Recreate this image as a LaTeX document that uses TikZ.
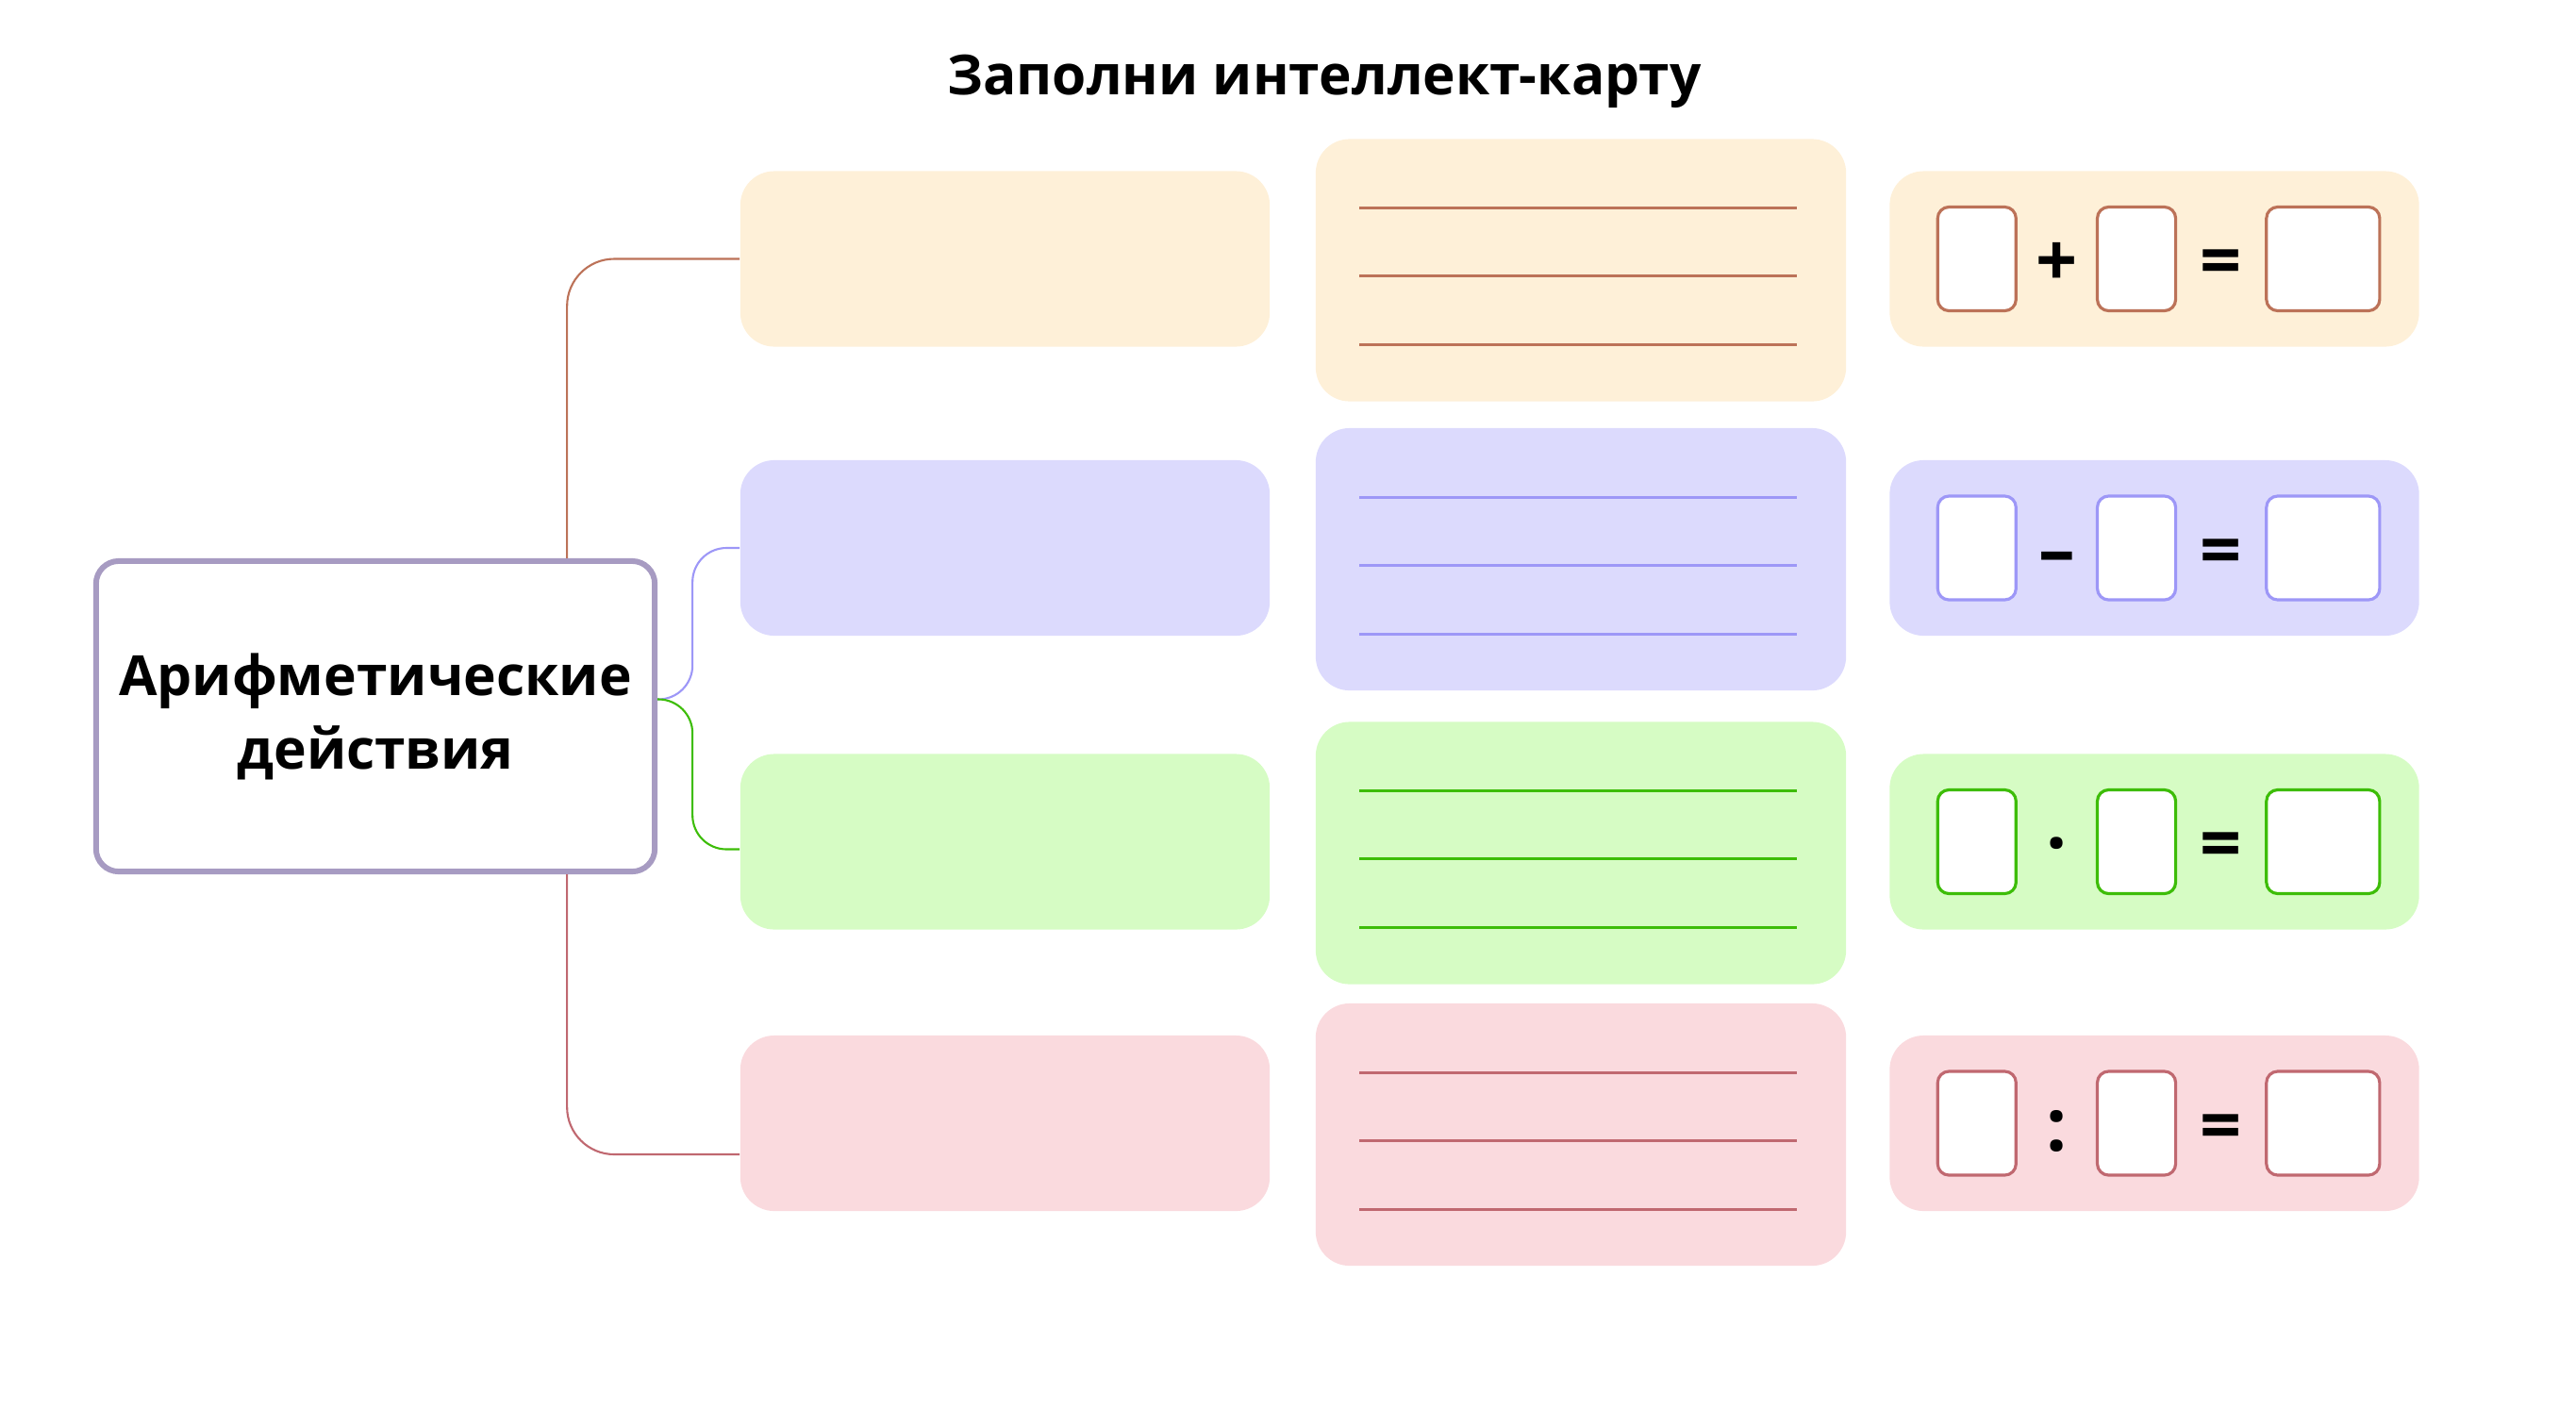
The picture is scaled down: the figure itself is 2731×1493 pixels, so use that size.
\documentclass[tikz,border=0pt]{standalone}
\usepackage{fontspec}
\setmainfont{Open Sans}
\usetikzlibrary{positioning,calc}
\definecolor{nen1}{HTML}{FEF0D8}
\definecolor{nen2}{HTML}{DCDAFD}
\definecolor{nen3}{HTML}{D6FCC4}
\definecolor{nen4}{HTML}{FADADE}
\definecolor{vien1}{HTML}{BC7258}
\definecolor{vien2}{HTML}{9D97F7}
\definecolor{vien3}{HTML}{3DBD08}
\definecolor{vien4}{HTML}{C06870}
\definecolor{vienO}{HTML}{A79BC2}
\begin{document}
\begin{tikzpicture}[x=.01cm,y=-.01cm,
    hop/.style={rounded corners=.36cm,minimum width=5.61cm,minimum height=1.86cm,inner sep=0pt},
    bang/.style={hop,minimum width=5.62cm,minimum height=2.78cm},
    onho/.style={draw,fill=white,rounded corners=.12cm,line width=.9pt,minimum width=.83cm,minimum height=1.1cm,inner sep=0pt},
    dau/.style={anchor=base,inner sep=0pt,font=\bfseries\fontsize{22pt}{22pt}\selectfont},
    noi/.style={line width=.6pt,rounded corners=.5cm}]
    \useasboundingbox (0,0) rectangle (2731,1493);
    \node[anchor=base,font=\bfseries\fontsize{16.65pt}{20pt}\selectfont] (T) at (1404,100) {Заполни интеллект-карту};
    \node[draw=vienO,line width=1.7pt,rounded corners=.24cm,minimum width=5.92cm,minimum height=3.29cm,
        align=center,font=\bfseries\fontsize{16.7pt}{22.2pt}\selectfont] (O) at (398,759.5) {Арифметические\\действия};
    \foreach \i/\op/\y in {1/+/274.5,2/–/581,3/·/892.5,4/:/1191}{
        \node[hop,fill=nen\i] (A\i) at (1065.5,\y) {}; % <<< cột 1
        \node[bang,fill=nen\i] (B\i) at (1676,\y+12) {}; % <<< cột 2
        \foreach \d in {-66,6,79}
            \draw[vien\i,line width=.85pt] ($(B\i.west)+(47,\d)$) -- ($(B\i.east)+(-53,\d)$);
        \node[hop,fill=nen\i] (C\i) at (2284,\y) {}; % <<< cột 3
        \node[onho,draw=vien\i,right=.5cm of C\i.west] (x\i) {};
        \node[onho,draw=vien\i,right=.83cm of x\i] (y\i) {};
        \node[onho,draw=vien\i,right=.93cm of y\i,minimum width=1.2cm] (z\i) {};
        \node[dau] (p\i) at ($(x\i.east)!.5!(y\i.west)+(0,29)$) {\op};
        \node[dau] (q\i) at ($(y\i.east)!.5!(z\i.west)+(0,29)$) {=};
    }
    \draw[noi,vien1] ($(O.north east)+(-96,0)$) |- (A1.west);
    \draw[noi,vien2,rounded corners=.36cm] ($(O.east)+(0,-18)$) -- ++(37,0) |- (A2.west);
    \draw[noi,vien3,rounded corners=.36cm] ($(O.east)+(0,-18)$) -- ++(37,0) |- ($(A3.west)+(0,8)$);
    \draw[noi,vien4] ($(O.south east)+(-96,0)$) |- ($(A4.west)+(0,33)$);
\end{tikzpicture}
\end{document}
